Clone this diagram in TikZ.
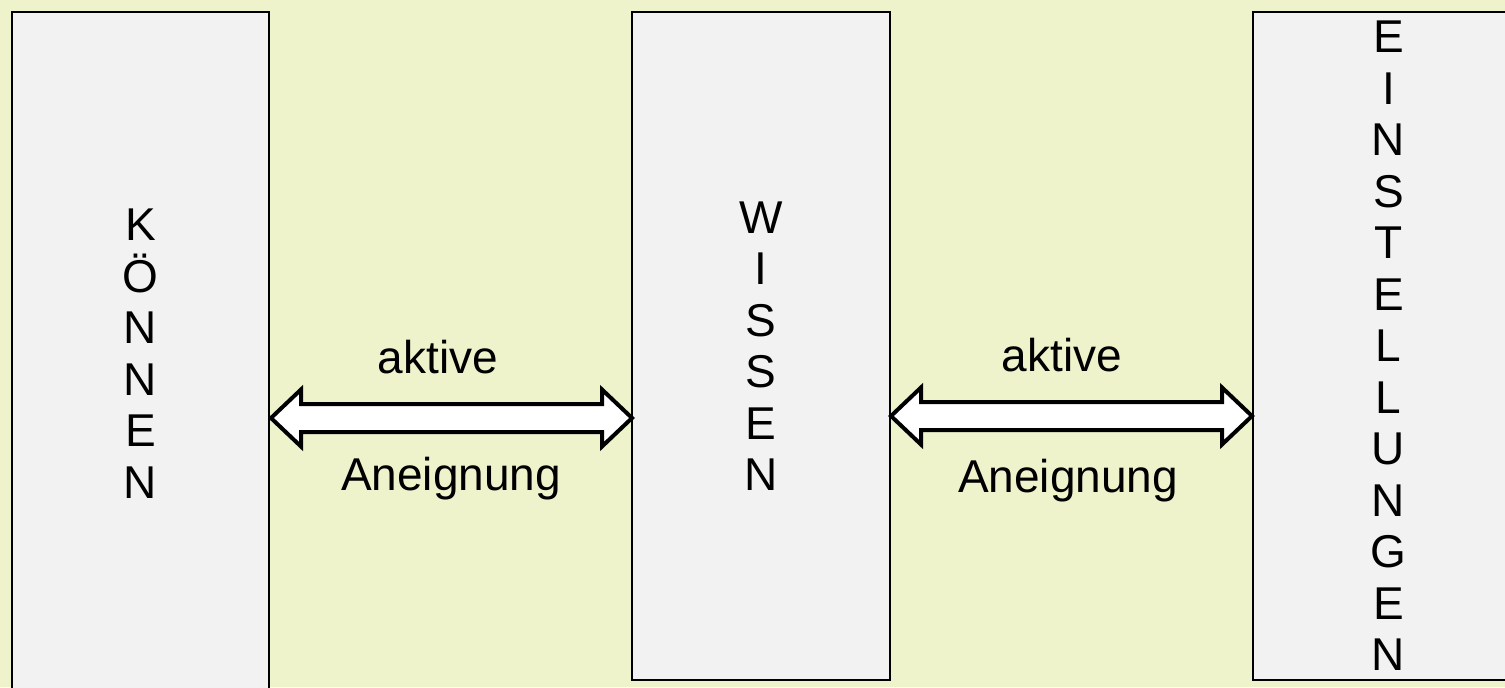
\documentclass[tikz,border=0pt]{standalone}
\usepackage{fontspec}
\setmainfont{Liberation Sans}
\usetikzlibrary{calc}
\definecolor{bg}{RGB}{238,243,204}
\definecolor{boxfill}{RGB}{242,242,242}
\newcommand{\dblarrow}[2]{%
  \draw[blockarrow] (#1) -- ($(#1)+(30,-28.5)$) -- ($(#1)+(30,-14)$) -- ($(#2)+(-30,-14)$) -- ($(#2)+(-30,-28.5)$) -- (#2)
    -- ($(#2)+(-30,28.5)$) -- ($(#2)+(-30,14)$) -- ($(#1)+(30,14)$) -- ($(#1)+(30,28.5)$) -- cycle;}
\begin{document}
\begin{tikzpicture}[x=0.5pt,y=-0.5pt,
  box/.style={draw=black,line width=1pt,fill=boxfill,inner sep=0pt,align=center,
    font=\fontsize{23}{25.75}\selectfont},
  blockarrow/.style={draw=black,line width=2pt,fill=white,line join=miter},
  lbl/.style={anchor=base,inner sep=0pt,font=\fontsize{23}{27}\selectfont}]
\useasboundingbox (0,0) rectangle (1505,687);
\fill[bg] (0,0) rectangle (1505,687);
\begin{scope}
\clip (0,0) rectangle (1505,687);
\node[box,minimum width=128.5pt,minimum height=341.5pt] (k) at (140.5,353.5) {K\\Ö\\N\\N\\E\\N};
\node[box,minimum width=128.85pt,minimum height=334pt] (w) at (761.2,346) {W\\I\\S\\S\\E\\N};
\node[box,minimum width=136pt,minimum height=334pt] (e) at (1388.5,346) {E\\I\\N\\S\\T\\E\\L\\L\\U\\N\\G\\E\\N};
\coordinate (a1l) at (271,418);
\coordinate (a1r) at (632,418);
\coordinate (a2l) at (891,416);
\coordinate (a2r) at (1252,416);
\dblarrow{a1l}{a1r}
\dblarrow{a2l}{a2r}
\node[lbl] (t1) at (438,373) {aktive};
\node[lbl] (t2) at (451,490) {Aneignung};
\node[lbl] (t3) at (1062,371) {aktive};
\node[lbl] (t4) at (1068,492) {Aneignung};
\end{scope}
\end{tikzpicture}
\end{document}
